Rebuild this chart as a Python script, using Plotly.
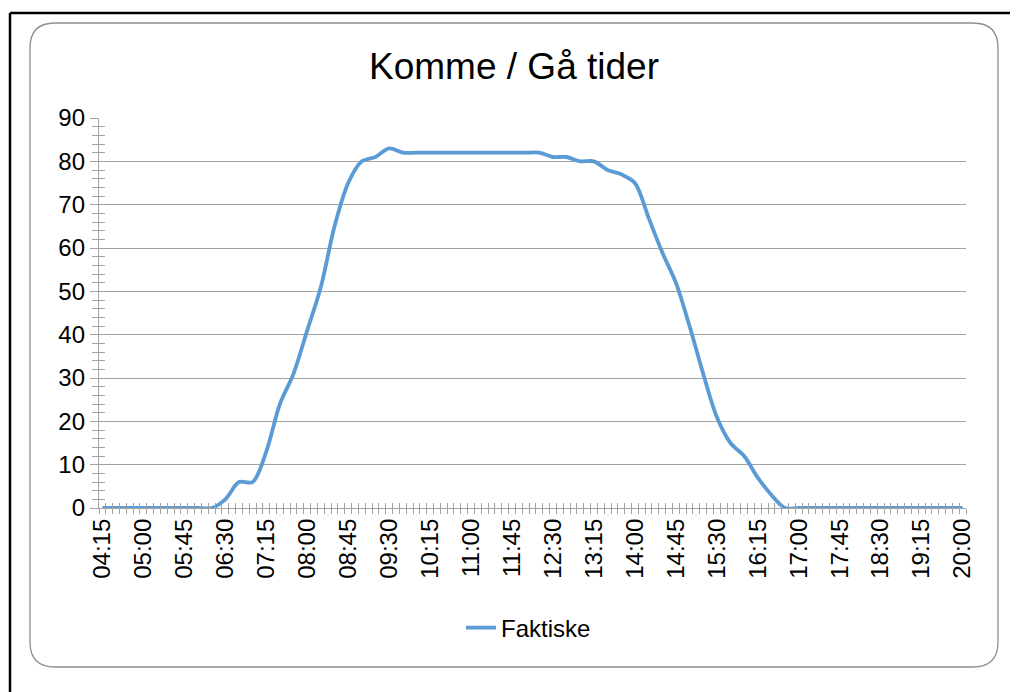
import plotly.graph_objects as go

# ---- data ----
times = ["04:15","04:30","04:45","05:00","05:15","05:30","05:45","06:00",
         "06:15","06:30","06:45","07:00","07:15","07:30","07:45","08:00",
         "08:15","08:30","08:45","09:00","09:15","09:30","09:45","10:00",
         "10:15","10:30","10:45","11:00","11:15","11:30","11:45","12:00",
         "12:15","12:30","12:45","13:00","13:15","13:30","13:45","14:00",
         "14:15","14:30","14:45","15:00","15:15","15:30","15:45","16:00",
         "16:15","16:30","16:45","17:00","17:15","17:30","17:45","18:00",
         "18:15","18:30","18:45","19:00","19:15","19:30","19:45","20:00"]
faktiske = [0, 0, 0, 0, 0, 0, 0, 0,
            0, 2, 6, 6, 13, 24, 31, 41,
            51, 65, 75, 80, 81, 83, 82, 82,
            82, 82, 82, 82, 82, 82, 82, 82,
            82, 81, 81, 80, 80, 78, 77, 75,
            67, 59, 52, 42, 31, 21, 15, 12,
            7, 3, 0, 0, 0, 0, 0, 0,
            0, 0, 0, 0, 0, 0, 0, 0]
tick_labels = ["04:15","05:00","05:45","06:30","07:15","08:00","08:45","09:30",
               "10:15","11:00","11:45","12:30","13:15","14:00","14:45","15:30",
               "16:15","17:00","17:45","18:30","19:15","20:00"]
series_name = "Faktiske"
title_text = "Komme / Gå tider"

def to_min(s):
    h, m = s.split(":")
    return int(h) * 60 + int(m)

x_min = [to_min(t) for t in times]
tick_min = [to_min(t) for t in tick_labels]
half_cat = 3.75
x_range = [x_min[0] - half_cat, x_min[-1] + half_cat]

# ---- geometry ----
# the page body has an 8px margin, so figure px = page px - 8
OFF = 8
W, H = 1018, 692
L, R, T, B = 99 - OFF, 966 - OFF, 118 - OFF, 508 - OFF
def xp(px):
    return (px - OFF - L) / (R - L)
def yp(py):
    return (B - (py - OFF)) / (B - T)

GRID = "#a3a3a3"
BLUE = "#5b9bd5"
FONT = "Liberation Sans"

fig = go.Figure()
fig.add_trace(go.Scatter(
    x=x_min, y=faktiske, mode="lines", name=series_name,
    line=dict(color=BLUE, width=3.8, shape="spline", smoothing=0.9),
    hoverinfo="x+y"))
# helper traces so the overlay axes are drawn (inside half of cross ticks)
fig.add_trace(go.Scatter(x=[None], y=[None], xaxis="x2", yaxis="y",
                         showlegend=False, hoverinfo="skip"))
fig.add_trace(go.Scatter(x=[None], y=[None], xaxis="x", yaxis="y2",
                         showlegend=False, hoverinfo="skip"))

# rounded chart border
x0, x1 = xp(30), xp(998)
y0, y1 = yp(667), yp(23)
rpx = 25
rx = rpx / (R - L)
ry = rpx / (B - T)
path = (f"M {x0+rx},{y1} L {x1-rx},{y1} Q {x1},{y1} {x1},{y1-ry} "
        f"L {x1},{y0+ry} Q {x1},{y0} {x1-rx},{y0} "
        f"L {x0+rx},{y0} Q {x0},{y0} {x0},{y0+ry} "
        f"L {x0},{y1-ry} Q {x0},{y1} {x0+rx},{y1} Z")
shapes = [
    dict(type="path", xref="paper", yref="paper", path=path,
         line=dict(color="#8f8f8f", width=1.3), fillcolor="rgba(0,0,0,0)", layer="below"),
    dict(type="line", xref="paper", yref="paper", x0=xp(10), x1=xp(1030),
         y0=yp(13), y1=yp(13), line=dict(color="black", width=2.5)),
    dict(type="line", xref="paper", yref="paper", x0=xp(10), x1=xp(10),
         y0=yp(13), y1=yp(710), line=dict(color="black", width=2.5)),
]

fig.update_layout(
    width=W, height=H,
    margin=dict(l=L, r=W - R, t=T, b=H - B, pad=0),
    paper_bgcolor="white", plot_bgcolor="white",
    font=dict(family=FONT, size=24, color="black"),
    title=dict(text=title_text, x=(514 - OFF) / W, xref="container", xanchor="center",
               y=1 - (66 - OFF) / H, yref="container", yanchor="middle",
               font=dict(family=FONT, size=37, color="black")),
    showlegend=True,
    legend=dict(orientation="h", x=xp(461), xanchor="left", y=yp(628),
                yanchor="middle", font=dict(family=FONT, size=24, color="black"),
                bgcolor="rgba(0,0,0,0)"),
    shapes=shapes,
    xaxis=dict(range=x_range, tickmode="array", tickvals=tick_min, ticktext=tick_labels,
               tickangle=-90, ticks="", showgrid=False, zeroline=False,
               showline=True, linecolor=GRID, linewidth=1.3,
               tickfont=dict(family=FONT, size=24, color="black"),
               minor=dict(tickmode="linear", tick0=x_range[0], dtick=7.5,
                          ticks="outside", ticklen=5, tickcolor=GRID, tickwidth=1,
                          showgrid=False),
               fixedrange=True),
    xaxis2=dict(range=x_range, overlaying="x", anchor="y", side="bottom",
                tickmode="linear", tick0=x_range[0], dtick=7.5, ticks="inside",
                ticklen=5, tickcolor=GRID, tickwidth=1, showticklabels=False,
                showgrid=False, zeroline=False, showline=False, fixedrange=True),
    yaxis=dict(range=[0, 90], tickmode="linear", tick0=0, dtick=10,
               ticks="outside", ticklen=8, tickcolor=GRID, tickwidth=1,
               showgrid=True, gridcolor=GRID, gridwidth=1.3, zeroline=False,
               showline=True, linecolor=GRID, linewidth=1.3,
               tickfont=dict(family=FONT, size=24, color="black"),
               minor=dict(tickmode="linear", tick0=0, dtick=2, ticks="outside",
                          ticklen=6, tickcolor=GRID, tickwidth=1, showgrid=False),
               fixedrange=True),
    yaxis2=dict(range=[0, 90], overlaying="y", anchor="x", side="left",
                tickmode="linear", tick0=0, dtick=2, ticks="inside", ticklen=6,
                tickcolor=GRID, tickwidth=1, showticklabels=False, showgrid=False,
                zeroline=False, showline=False, fixedrange=True),
)

fig.write_html("out.html")
